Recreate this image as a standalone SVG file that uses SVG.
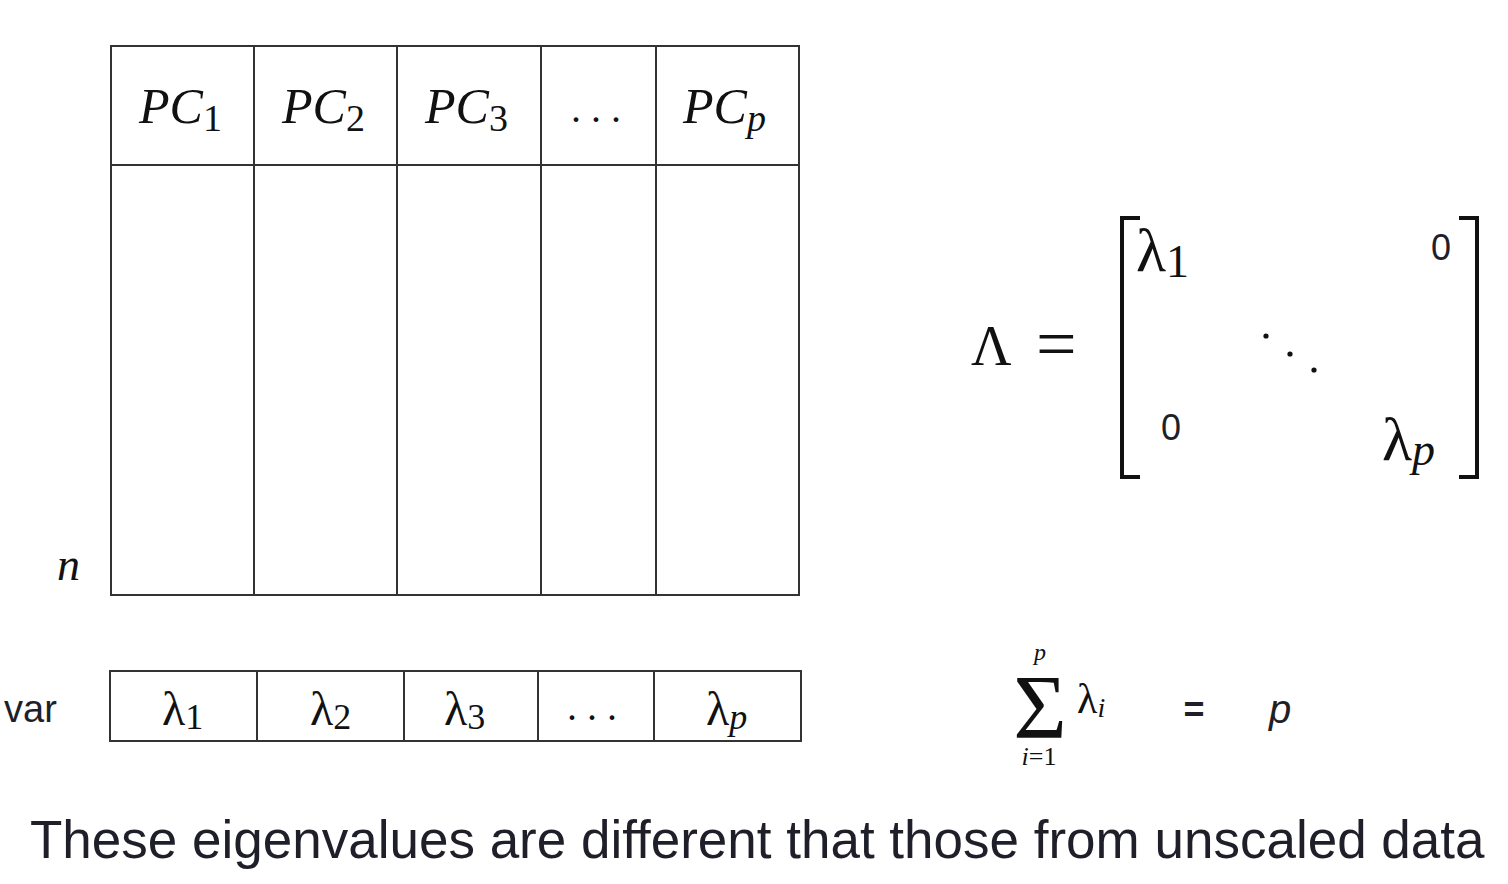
<svg xmlns="http://www.w3.org/2000/svg" width="1508" height="884" viewBox="0 0 1508 884">
<style>
.grid{fill:none;stroke:#333;stroke-width:2}
.m{font-family:"Liberation Serif","DejaVu Serif",serif;font-style:italic;fill:#111}
.r{font-family:"Liberation Serif","DejaVu Serif",serif;fill:#111}
.s{font-family:"Liberation Sans",Arial,sans-serif;fill:#1f1f2a}
.br{fill:none;stroke:#111;stroke-width:4}
</style>
<rect width="1508" height="884" fill="#fff"/>
<g id="pc-table">
<rect class="grid" x="111" y="46" width="688" height="549"/>
<line class="grid" x1="111" y1="165" x2="799" y2="165"/>
<line class="grid" x1="254" y1="46" x2="254" y2="595"/>
<line class="grid" x1="397" y1="46" x2="397" y2="595"/>
<line class="grid" x1="541" y1="46" x2="541" y2="595"/>
<line class="grid" x1="656" y1="46" x2="656" y2="595"/>
<text class="m" x="139" y="123" font-size="50">PC<tspan class="r" font-style="normal" font-size="38" dy="8">1</tspan></text>
<text class="m" x="282" y="123" font-size="50">PC<tspan class="r" font-style="normal" font-size="38" dy="8">2</tspan></text>
<text class="m" x="425" y="123" font-size="50">PC<tspan class="r" font-style="normal" font-size="38" dy="8">3</tspan></text>
<text class="r" x="596" y="122" font-size="40" text-anchor="middle">. . .</text>
<text class="m" x="683" y="123" font-size="50">PC<tspan font-size="38" dy="8">p</tspan></text>
<text class="m" x="57" y="580" font-size="46">n</text>
</g>
<g id="var-row">
<text class="s" x="4" y="722" font-size="38">var</text>
<rect class="grid" x="110" y="671" width="691" height="70"/>
<line class="grid" x1="257" y1="671" x2="257" y2="741"/>
<line class="grid" x1="404" y1="671" x2="404" y2="741"/>
<line class="grid" x1="538" y1="671" x2="538" y2="741"/>
<line class="grid" x1="654" y1="671" x2="654" y2="741"/>
<text class="r" x="162" y="725" font-size="48">λ<tspan font-size="36" dy="4">1</tspan></text>
<text class="r" x="310" y="725" font-size="48">λ<tspan font-size="36" dy="4">2</tspan></text>
<text class="r" x="444" y="725" font-size="48">λ<tspan font-size="36" dy="4">3</tspan></text>
<text class="r" x="592" y="720" font-size="40" text-anchor="middle">. . .</text>
<text class="r" x="706" y="725" font-size="48">λ<tspan class="m" font-size="36" dy="4">p</tspan></text>
</g>
<g id="lambda-matrix">
<text class="r" x="971" y="365" font-size="56">Λ</text>
<text class="r" x="1036" y="368" font-size="72">=</text>
<path class="br" d="M1140,218 H1122 V477 H1140"/>
<path class="br" d="M1459,218 H1477 V477 H1459"/>
<text class="r" x="1136" y="271" font-size="62">λ<tspan font-size="46" dy="6">1</tspan></text>
<text class="s" x="1441" y="260" font-size="36" text-anchor="middle">0</text>
<circle cx="1266" cy="336" r="2.6" fill="#111"/>
<circle cx="1290" cy="354" r="2.6" fill="#111"/>
<circle cx="1314" cy="370" r="2.6" fill="#111"/>
<text class="s" x="1171" y="440" font-size="36" text-anchor="middle">0</text>
<text class="r" x="1382" y="460" font-size="62">λ<tspan class="m" font-size="46" dy="5">p</tspan></text>
</g>
<g id="sum">
<text class="r" x="1040" y="738" font-size="92" text-anchor="middle">Σ</text>
<text class="m" x="1040" y="660" font-size="24" text-anchor="middle">p</text>
<text class="m" x="1039" y="765" font-size="26" text-anchor="middle">i<tspan font-style="normal">=1</tspan></text>
<text class="r" x="1077" y="713" font-size="42">λ<tspan class="m" font-size="28" dy="4">i</tspan></text>
<text class="s" x="1194" y="722" font-size="36" font-weight="bold" text-anchor="middle">=</text>
<text class="s" x="1280" y="723" font-size="40" font-style="italic" text-anchor="middle">p</text>
</g>
<text class="s" x="30" y="858" font-size="53" fill="#111">These eigenvalues are different that those from unscaled data</text>
</svg>
